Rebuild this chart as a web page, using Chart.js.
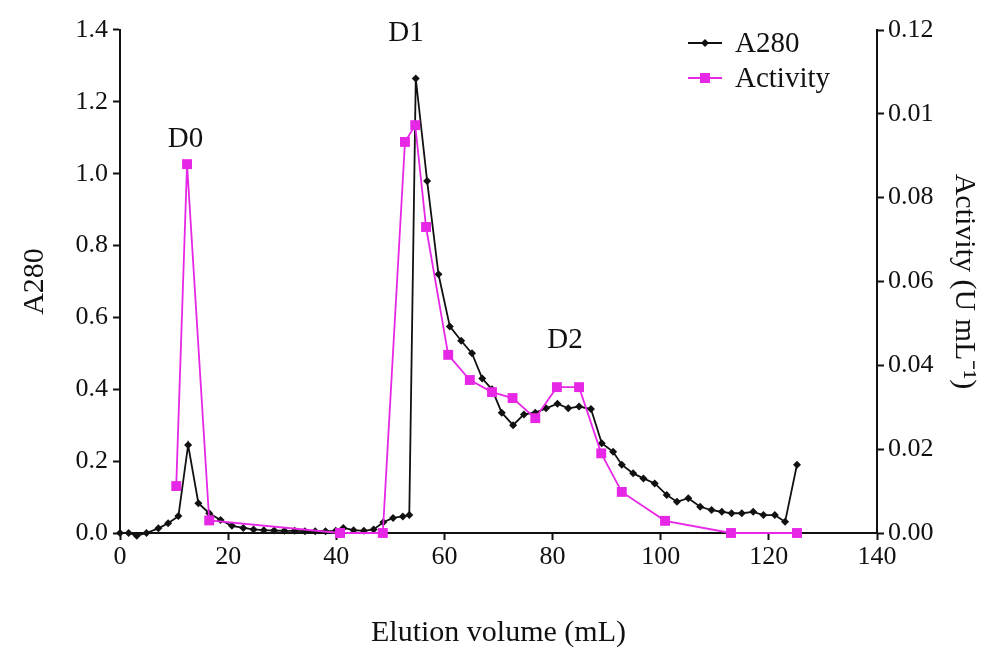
<!DOCTYPE html>
<html>
<head>
<meta charset="utf-8">
<script src="https://cdn.jsdelivr.net/npm/chart.js@4.4.1/dist/chart.umd.min.js"></script>
<style>
  html, body { margin: 0; padding: 0; background: #fff; }
  #wrap { width: 987px; height: 651px; position: relative; }
</style>
</head>
<body>
<div id="wrap"><canvas id="c" width="987" height="651"></canvas></div>
<script>
// ---- data ----
const a280X = [0, 1.6, 3.1, 4.9, 7.1, 8.9, 10.8, 12.6, 14.5, 16.5, 18.6, 20.7, 22.8, 24.7, 26.6, 28.5, 30.4, 32.3, 34.2, 36.1, 38.0, 39.9, 41.3, 43.2, 45.1, 46.9, 48.7, 50.5, 52.3, 53.5, 54.7, 56.8, 58.9, 61.0, 63.1, 65.1, 67.0, 68.8, 70.6, 72.7, 74.7, 76.8, 78.8, 80.9, 82.9, 84.9, 87.1, 89.1, 91.2, 92.8, 94.9, 96.8, 98.9, 101.1, 103.0, 105.1, 107.3, 109.4, 111.3, 113.1, 115.0, 117.1, 119.0, 121.1, 123.0, 125.2];
const a280Y = [0.000, 0.000, -0.008, 0.000, 0.013, 0.027, 0.047, 0.245, 0.083, 0.055, 0.036, 0.020, 0.014, 0.010, 0.008, 0.007, 0.006, 0.006, 0.005, 0.005, 0.005, 0.006, 0.014, 0.008, 0.006, 0.010, 0.030, 0.042, 0.046, 0.050, 1.265, 0.980, 0.720, 0.575, 0.535, 0.500, 0.430, 0.400, 0.335, 0.300, 0.330, 0.335, 0.347, 0.360, 0.347, 0.352, 0.345, 0.250, 0.226, 0.190, 0.166, 0.152, 0.138, 0.106, 0.087, 0.097, 0.073, 0.064, 0.059, 0.055, 0.055, 0.059, 0.050, 0.050, 0.031, 0.190];

const actX = [10.4, 12.4, 16.5, 40.7, 48.6, 52.7, 54.6, 56.6, 60.7, 64.7, 68.8, 72.6, 76.8, 80.8, 84.9, 89.0, 92.8, 100.8, 113.0, 125.2];
const actY = [0.0112, 0.0880, 0.0030, 0.0000, 0.0000, 0.0933, 0.0973, 0.0730, 0.0425, 0.0365, 0.0336, 0.0322, 0.0274, 0.0348, 0.0348, 0.0190, 0.0098, 0.0029, 0.0000, 0.0000];

const xTicks = [0, 20, 40, 60, 80, 100, 120, 140];
const leftTickLabels = ['0.0', '0.2', '0.4', '0.6', '0.8', '1.0', '1.2', '1.4'];
const rightTickLabels = ['0.00', '0.02', '0.04', '0.06', '0.08', '0.01', '0.12'];

const peakNames = ['D0', 'D1', 'D2'];
const peakX = [12.1, 52.9, 82.3];
const peakY = [1.095, 1.39, 0.535];

const seriesNames = ['A280', 'Activity'];
// ---------------------------------------

const BLACK = '#111111';
const MAGENTA = '#e628e6';
const SERIF = "'Liberation Serif', 'Times New Roman', serif";

const a280Data = a280X.map((x, i) => ({ x, y: a280Y[i] }));
const actData = actX.map((x, i) => ({ x, y: actY[i] }));

const annotPlugin = {
  id: 'annot',
  afterDatasetsDraw(chart) {
    const ctx = chart.ctx;
    const xs = chart.scales.x, ys = chart.scales.y;
    ctx.save();
    ctx.fillStyle = '#111';
    ctx.font = "29px " + SERIF;
    ctx.textAlign = 'center';
    ctx.textBaseline = 'middle';
    peakNames.forEach((t, i) => {
      ctx.fillText(t, xs.getPixelForValue(peakX[i]), ys.getPixelForValue(peakY[i]));
    });
    // legend
    const lx = 688, ly = [43, 78];
    const colors = [BLACK, MAGENTA];
    ctx.textAlign = 'left';
    ctx.font = "29px " + SERIF;
    seriesNames.forEach((name, i) => {
      ctx.strokeStyle = colors[i];
      ctx.lineWidth = 2;
      ctx.beginPath();
      ctx.moveTo(lx, ly[i]);
      ctx.lineTo(lx + 34, ly[i]);
      ctx.stroke();
      ctx.fillStyle = colors[i];
      const cx = lx + 17;
      if (i === 0) {
        ctx.beginPath();
        ctx.moveTo(cx, ly[i] - 4); ctx.lineTo(cx + 4, ly[i]);
        ctx.lineTo(cx, ly[i] + 4); ctx.lineTo(cx - 4, ly[i]);
        ctx.closePath(); ctx.fill();
      } else {
        ctx.fillRect(cx - 5, ly[i] - 5, 10, 10);
      }
      ctx.fillStyle = '#111';
      ctx.fillText(name, lx + 47, ly[i] + 1);
    });
    ctx.restore();
  }
};

const tickFont = { family: SERIF, size: 26 };
const titleFont = { family: SERIF, size: 30 };

new Chart(document.getElementById('c'), {
  type: 'line',
  data: {
    datasets: [
      {
        label: seriesNames[0],
        data: a280Data,
        yAxisID: 'y',
        borderColor: BLACK,
        backgroundColor: BLACK,
        borderWidth: 1.8,
        pointStyle: 'rectRot',
        pointRadius: 4,
        pointBorderWidth: 0,
        pointBackgroundColor: BLACK,
        tension: 0,
        clip: false,
        order: 2
      },
      {
        label: seriesNames[1],
        data: actData,
        yAxisID: 'y1',
        borderColor: MAGENTA,
        backgroundColor: MAGENTA,
        borderWidth: 1.8,
        pointStyle: 'rect',
        pointRadius: 7,
        pointBorderWidth: 0,
        pointBackgroundColor: MAGENTA,
        tension: 0,
        clip: false,
        order: 1
      }
    ]
  },
  options: {
    responsive: false,
    animation: false,
    devicePixelRatio: 1,
    layout: { padding: { top: 30, left: 0, right: 0, bottom: 0 } },
    plugins: { legend: { display: false }, tooltip: { enabled: false } },
    scales: {
      x: {
        type: 'linear', position: 'bottom', min: 0, max: 140,
        afterFit(s) { s.height = 118; },
        afterBuildTicks(s) { s.ticks = xTicks.map(v => ({ value: v })); },
        ticks: { font: tickFont, color: '#111', padding: 2, maxRotation: 0 },
        grid: { drawOnChartArea: false, drawTicks: true, tickLength: 7, tickColor: '#111', tickWidth: 2 },
        border: { display: true, color: '#111', width: 2 },
        title: { display: true, text: 'Elution volume (mL)', font: titleFont, color: '#111', padding: { top: 0, bottom: 0 } }
      },
      y: {
        type: 'linear', position: 'left', min: 0, max: 1.4,
        afterFit(s) { s.width = 120; },
        afterBuildTicks(s) { s.ticks = leftTickLabels.map((l, i) => ({ value: i * 0.2 })); },
        ticks: { font: tickFont, color: '#111', padding: 5, callback: (v, i) => leftTickLabels[i] },
        grid: { drawOnChartArea: false, drawTicks: true, tickLength: 7, tickColor: '#111', tickWidth: 2 },
        border: { display: true, color: '#111', width: 2 },
        title: { display: true, text: 'A280', font: titleFont, color: '#111', padding: { top: 17, bottom: 0 } }
      },
      y1: {
        type: 'linear', position: 'right', min: 0, max: 0.12,
        afterFit(s) { s.width = 110; },
        afterBuildTicks(s) { s.ticks = rightTickLabels.map((l, i) => ({ value: i * 0.02 })); },
        ticks: { font: tickFont, color: '#111', padding: 4, callback: (v, i) => rightTickLabels[i] },
        grid: { drawOnChartArea: false, drawTicks: true, tickLength: 7, tickColor: '#111', tickWidth: 2 },
        border: { display: true, color: '#111', width: 2 },
        title: { display: true, text: 'Activity (U mL\u207B\u00B9)', font: titleFont, color: '#111', padding: { top: 5, bottom: 0 } }
      }
    }
  },
  plugins: [annotPlugin]
});
</script>
</body>
</html>
